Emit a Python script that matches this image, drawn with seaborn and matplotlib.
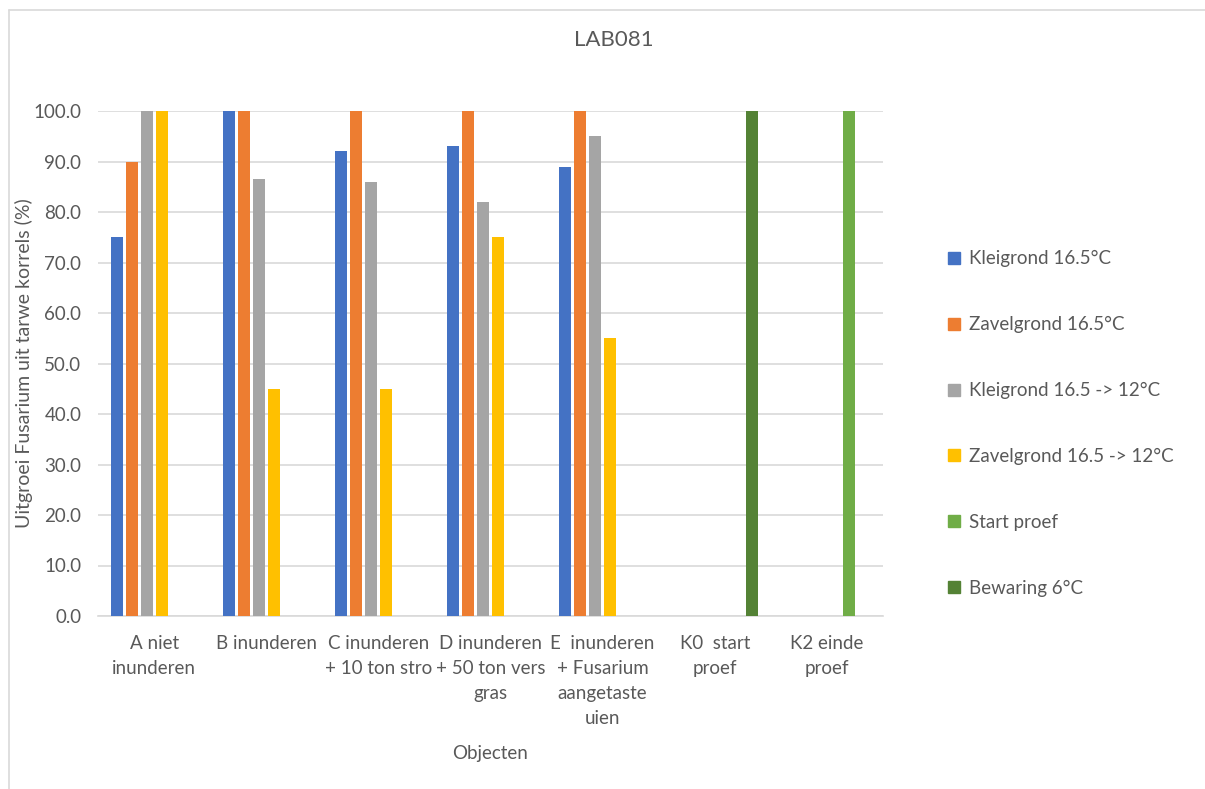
import matplotlib
matplotlib.use("Agg")
import matplotlib.pyplot as plt
from matplotlib.lines import Line2D
from matplotlib.ticker import FormatStrFormatter
import pandas as pd
import seaborn as sns

# Objects (x categories) and the treatments (series)
categories = [
    "A niet\ninunderen",
    "B inunderen",
    "C inunderen\n+ 10 ton stro",
    "D inunderen\n+ 50 ton vers\ngras",
    "E  inunderen\n+ Fusarium\naangetaste\nuien",
    "K0  start\nproef",
    "K2 einde\nproef",
]
series = [
    "Kleigrond 16.5°C",
    "Zavelgrond 16.5°C",
    "Kleigrond 16.5 -> 12°C",
    "Zavelgrond 16.5 -> 12°C",
    "Start proef",
    "Bewaring 6°C",
]
colors = ["#4472C4", "#ED7D31", "#A5A5A5", "#FFC000", "#70AD47", "#548235"]

# Outgrowth of Fusarium from wheat kernels (%) per series; None = not measured
kleigrond_165 = [75, 100, 92, 93, 89, None, None]
zavelgrond_165 = [90, 100, 100, 100, 100, None, None]
kleigrond_165_12 = [100, 86.5, 86, 82, 95, None, None]
zavelgrond_165_12 = [100, 45, 45, 75, 55, None, None]
start_proef = [None, None, None, None, None, None, 100]
bewaring_6 = [None, None, None, None, None, 100, None]

values = [kleigrond_165, zavelgrond_165, kleigrond_165_12,
          zavelgrond_165_12, start_proef, bewaring_6]

rows = []
for name, vals in zip(series, values):
    for cat, v in zip(categories, vals):
        if v is not None:
            rows.append({"Object": cat, "Serie": name, "Waarde": v})
df = pd.DataFrame(rows)

sns.set_theme(style="white")
font = ["Lato", "DejaVu Sans"]
plt.rcParams["font.family"] = font
text_color = "#595959"

fig = plt.figure(figsize=(12.05, 7.89), dpi=100)
ax = fig.add_axes([98 / 1205, 1 - 616 / 789, (883 - 98) / 1205, (616 - 111) / 789])

sns.barplot(data=df, x="Object", y="Waarde", hue="Serie",
            order=categories, hue_order=series, palette=colors,
            width=0.8, gap=0.2, dodge=True, errorbar=None,
            linewidth=0, saturation=1, ax=ax, legend=False, zorder=3)

ax.set_ylim(0, 100)
ax.set_yticks(range(0, 101, 10))
ax.yaxis.set_major_formatter(FormatStrFormatter("%.1f"))
ax.grid(axis="y", color="#D9D9D9", linewidth=1.2, zorder=0)
ax.set_axisbelow(True)
for side in ["top", "right", "left"]:
    ax.spines[side].set_visible(False)
ax.spines["bottom"].set_color("#D9D9D9")
ax.spines["bottom"].set_linewidth(1.2)

ax.tick_params(axis="y", length=0, pad=12, labelsize=13.5, labelcolor=text_color)
ax.tick_params(axis="x", length=0, pad=14, labelsize=13.5, labelcolor=text_color)
for lab in ax.get_xticklabels():
    lab.set_linespacing(1.55)
    lab.set_verticalalignment("top")

ax.set_xlabel("Objecten", fontsize=13.5, color=text_color, labelpad=13)
ax.set_ylabel("Uitgroei Fusarium uit tarwe korrels (%)", fontsize=14,
              color=text_color, labelpad=0)

fig.text(614 / 1205, 1 - 40 / 789, "LAB081", ha="center", va="center",
         fontsize=16, color=text_color)

handles = [Line2D([0], [0], marker="s", linestyle="none", markersize=9,
                  markerfacecolor=c, markeredgecolor=c) for c in colors]
fig.legend(handles, series, loc="upper left",
           bbox_to_anchor=(937 / 1205, 1 - 241 / 789), frameon=False,
           fontsize=13.5, labelcolor=text_color, handlelength=0.8,
           handletextpad=0.4, labelspacing=2.6, borderpad=0)

# chart area border (top and left edges)
fig.add_artist(Line2D([9 / 1205, 1], [1 - 10 / 789, 1 - 10 / 789],
                      color="#D9D9D9", linewidth=1.2, transform=fig.transFigure))
fig.add_artist(Line2D([9 / 1205, 9 / 1205], [0, 1 - 10 / 789],
                      color="#D9D9D9", linewidth=1.2, transform=fig.transFigure))

fig.savefig("out.png", dpi=100)
